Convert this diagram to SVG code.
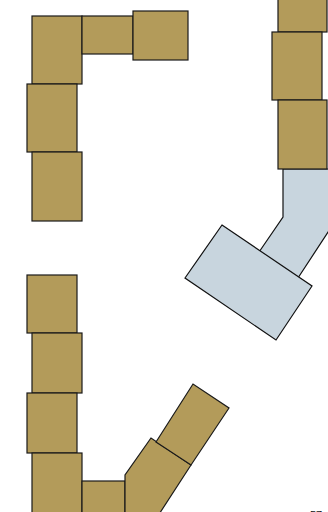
<svg xmlns="http://www.w3.org/2000/svg" width="328" height="512" viewBox="0 0 328 512">
<style>
.b{fill:#b39b5a;stroke:#1a1a1a;stroke-width:1.2}
.l{fill:#c8d5de;stroke:#111;stroke-width:1.2}
text{font-family:"Liberation Sans",Arial,sans-serif;font-size:11px;fill:#111}
</style>
<rect width="328" height="512" fill="#fff"/>
<g id="connectors">
<polygon class="l" points="283,169 334,169 334,223 296,281 257,255 283,217"/>
</g>
<g id="n1"><rect class="b" x="32" y="16" width="50" height="68"/></g>
<g id="n2"><rect class="b" x="82" y="16" width="51" height="38"/></g>
<g id="n3"><rect class="b" x="133" y="11" width="55" height="49"/></g>
<g id="n4"><rect class="b" x="27" y="84" width="50" height="68"/></g>
<g id="n5"><rect class="b" x="32" y="152" width="50" height="69"/></g>
<g id="n6"><rect class="b" x="278" y="-10" width="49" height="42"/></g>
<g id="n7"><rect class="b" x="272" y="32" width="50" height="68"/></g>
<g id="n8"><rect class="b" x="278" y="100" width="49" height="69"/></g>
<g id="n9"><polygon class="l" points="222,225 312,286 276,340 185,278"/></g>
<g id="n10"><rect class="b" x="27" y="275" width="50" height="58"/></g>
<g id="n11"><rect class="b" x="32" y="333" width="50" height="60"/></g>
<g id="n12"><rect class="b" x="27" y="393" width="50" height="60"/></g>
<g id="n13"><rect class="b" x="32" y="453" width="50" height="70"/></g>
<g id="n14"><rect class="b" x="82" y="481" width="43" height="40"/></g>
<g id="n15"><polygon class="b" points="125,520 125,475 151,438 191,465 154,522"/></g>
<g id="n16"><polygon class="b" points="156,442 193,384 229,408 191,465"/></g>
<g id="label"><text x="310" y="519">57</text></g>
</svg>
